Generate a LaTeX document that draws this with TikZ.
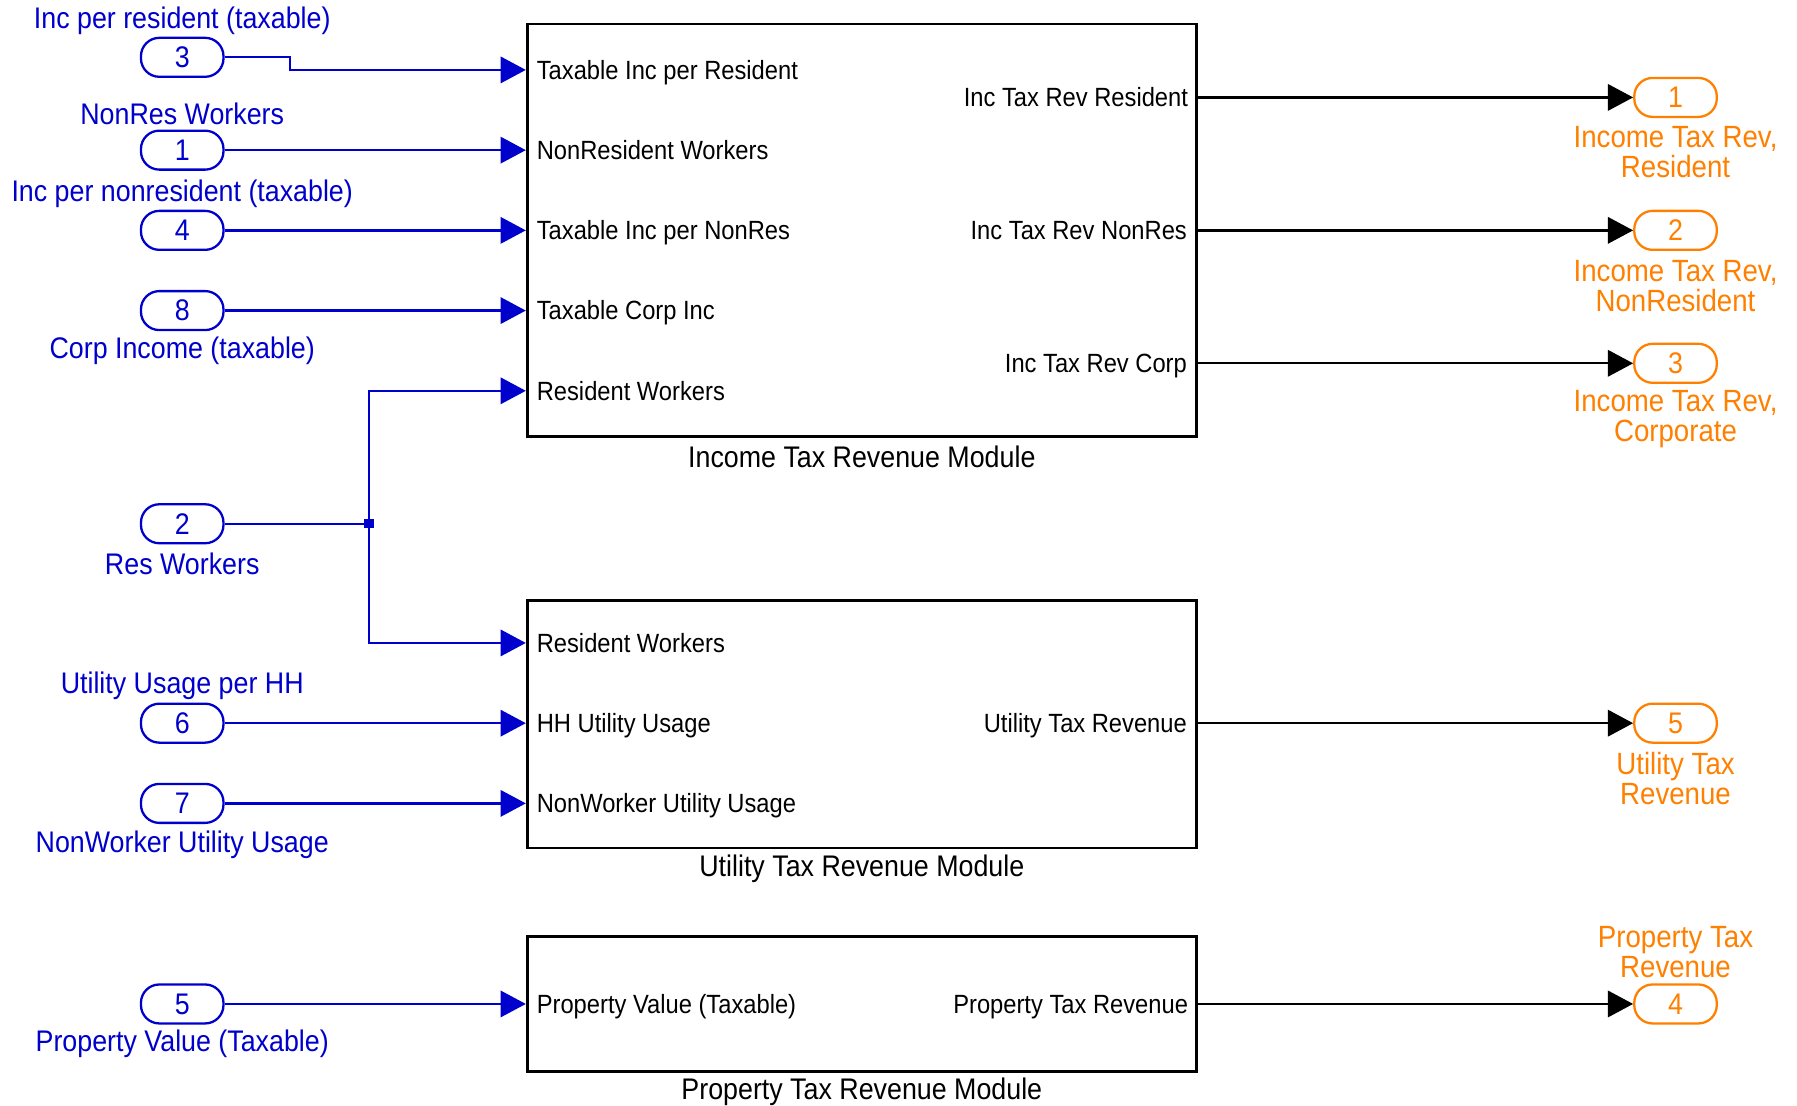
\documentclass[tikz,border=0pt]{standalone}
\usepackage{fontspec}
\setmainfont{Liberation Sans}[FakeStretch=0.9]
\usetikzlibrary{arrows.meta}
\definecolor{sigblue}{RGB}{0,0,204}
\definecolor{outorange}{RGB}{255,128,0}

\begin{document}
\begin{tikzpicture}[x=0.5pt,y=-0.5pt,
  inport/.style={draw=sigblue, text=sigblue, line width=1pt, rounded corners=8pt,
    minimum width=36pt, minimum height=17pt, inner sep=0pt, font=\fontsize{13}{13}\selectfont},
  outport/.style={inport, draw=outorange, text=outorange},
  inlabel/.style={text=sigblue, inner sep=0pt, font=\fontsize{13}{13}\selectfont},
  outlabel/.style={text=outorange, inner sep=0pt, align=center, font=\fontsize{13.4}{13}\selectfont},
  block/.style={draw=black, line width=1.2pt, minimum width=292pt, inner sep=0pt},
  blocktitle/.style={inner sep=0pt, font=\fontsize{13}{13}\selectfont},
  bport/.style={inner sep=0pt, text height=8.2pt, text depth=0pt, font=\fontsize{11.5}{11.5}\selectfont},
  inL/.style={bport, anchor=west},
  outR/.style={bport, anchor=east},
  sigline/.style={draw=sigblue, line width=1pt},
  sig/.style={sigline, -{Triangle[length=11pt,width=11.5pt]}},
  outsig/.style={draw=black, line width=1pt, -{Triangle[length=11pt,width=11.5pt]}},
  junction/.style={fill=sigblue, minimum size=4pt, inner sep=0pt}
]
\useasboundingbox (0,0) rectangle (1568,965);

% ---- subsystem blocks ----
\node[block, minimum height=180pt] (inc)  at (752,201) {};
\node[block, minimum height=108pt] (util) at (752,632) {};
\node[block, minimum height=59pt]  (prop) at (752,876) {};

\node[blocktitle] (incT)  at (752,399) {Income Tax Revenue Module};
\node[blocktitle] (utilT) at (752,758) {Utility Tax Revenue Module};
\node[blocktitle] (propT) at (752,953) {Property Tax Revenue Module};

% ---- block port labels ----
\node[inL] (iL1) at (468,61)  {Taxable Inc per Resident};
\node[inL] (iL2) at (468,131) {NonResident Workers};
\node[inL] (iL3) at (468,201) {Taxable Inc per NonRes};
\node[inL] (iL4) at (468,271) {Taxable Corp Inc};
\node[inL] (iL5) at (468,341) {Resident Workers};
\node[outR] (iR1) at (1037,85)  {Inc Tax Rev Resident};
\node[outR] (iR2) at (1036,201) {Inc Tax Rev NonRes};
\node[outR] (iR3) at (1036,317) {Inc Tax Rev Corp};

\node[inL] (uL1) at (468,561) {Resident Workers};
\node[inL] (uL2) at (468,631) {HH Utility Usage};
\node[inL] (uL3) at (468,701) {NonWorker Utility Usage};
\node[outR] (uR1) at (1036,631) {Utility Tax Revenue};

\node[inL] (pL1) at (468,876) {Property Value (Taxable)};
\node[outR] (pR1) at (1037,876) {Property Tax Revenue};

% ---- inports ----
\node[inport] (p3) at (159,50)  {3};
\node[inport] (p1) at (159,131) {1};
\node[inport] (p4) at (159,201) {4};
\node[inport] (p8) at (159,271) {8};
\node[inport] (p2) at (159,457) {2};
\node[inport] (p6) at (159,631) {6};
\node[inport] (p7) at (159,701) {7};
\node[inport] (p5) at (159,876) {5};

\node[inlabel] (p3L) at (159,18)  {Inc per resident (taxable)};
\node[inlabel] (p1L) at (159,99)  {NonRes Workers};
\node[inlabel] (p4L) at (159,169) {Inc per nonresident (taxable)};
\node[inlabel] (p8L) at (159,306) {Corp Income (taxable)};
\node[inlabel] (p2L) at (159,492) {Res Workers};
\node[inlabel] (p6L) at (159,598) {Utility Usage per HH};
\node[inlabel] (p7L) at (159,737) {NonWorker Utility Usage};
\node[inlabel] (p5L) at (159,911) {Property Value (Taxable)};

% ---- outports ----
\node[outport] (o1) at (1462,85)  {1};
\node[outport] (o2) at (1462,201) {2};
\node[outport] (o3) at (1462,317) {3};
\node[outport] (o5) at (1462,631) {5};
\node[outport] (o4) at (1462,876) {4};

\node[outlabel] (o1L) at (1462,133)   {Income Tax Rev,\\Resident};
\node[outlabel] (o2L) at (1462,249.5) {Income Tax Rev,\\NonResident};
\node[outlabel] (o3L) at (1462,366)   {Income Tax Rev,\\Corporate};
\node[outlabel] (o5L) at (1462,679.5) {Utility Tax\\Revenue};
\node[outlabel] (o4L) at (1462,831)   {Property Tax\\Revenue};

% ---- input signals ----
\draw[sig] (p3.east) -- ++(57,0) |- (inc.west |- iL1);
\draw[sig] (p1.east) -- (inc.west |- iL2);
\draw[sig] (p4.east) -- (inc.west |- iL3);
\draw[sig] (p8.east) -- (inc.west |- iL4);

\node[junction] (j) at (322,457) {};
\draw[sigline] (p2.east) -- (j.center);
\draw[sig] (j.center) |- (inc.west |- iL5);
\draw[sig] (j.center) |- (util.west |- uL1);

\draw[sig] (p6.east) -- (util.west |- uL2);
\draw[sig] (p7.east) -- (util.west |- uL3);
\draw[sig] (p5.east) -- (prop.west |- pL1);

% ---- output signals ----
\draw[outsig] (inc.east |- iR1) -- (o1.west);
\draw[outsig] (inc.east |- iR2) -- (o2.west);
\draw[outsig] (inc.east |- iR3) -- (o3.west);
\draw[outsig] (util.east |- uR1) -- (o5.west);
\draw[outsig] (prop.east |- pR1) -- (o4.west);
\end{tikzpicture}
\end{document}
